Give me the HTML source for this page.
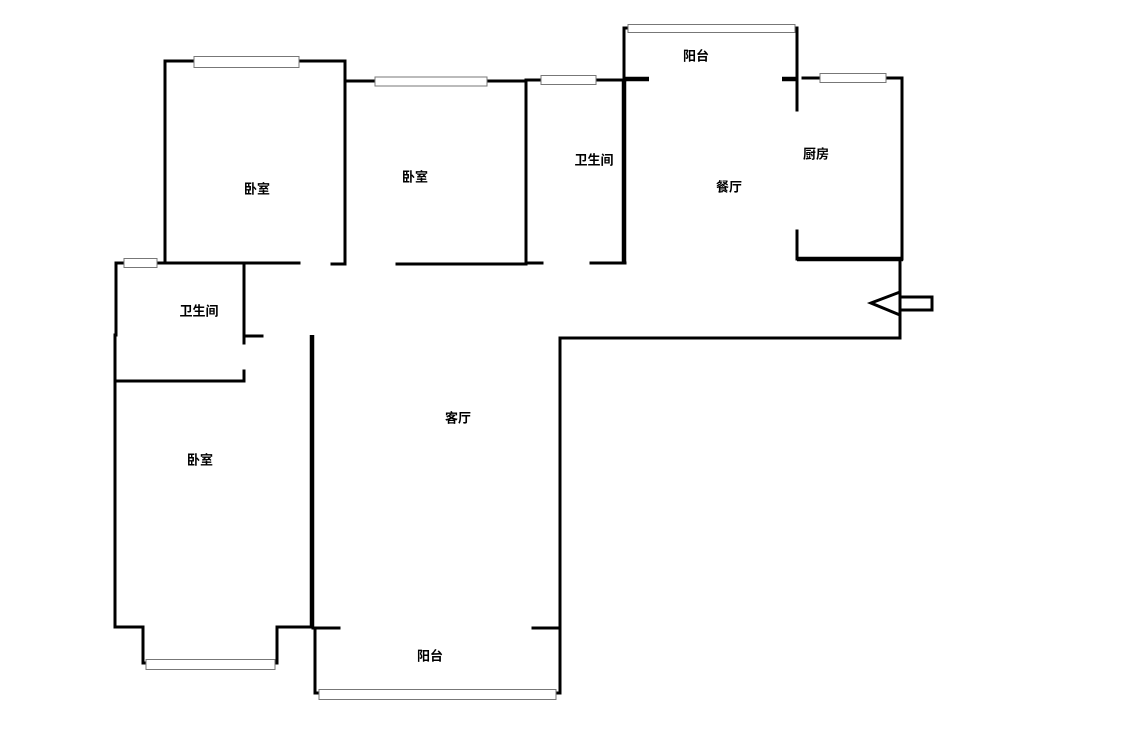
<!DOCTYPE html>
<html><head><meta charset="utf-8"><style>
html,body{margin:0;padding:0;background:#fff;}
svg{display:block}
text{font-family:"Liberation Sans","Noto Sans CJK SC",sans-serif;font-size:13px;font-weight:bold;fill:#000;text-anchor:middle;dominant-baseline:middle}
</style></head><body>
<svg width="1125" height="731" viewBox="0 0 1125 731" xmlns="http://www.w3.org/2000/svg">
<g stroke="#000" stroke-width="3" fill="none" stroke-linecap="square">
<!-- bedroom 1 -->
<polyline points="194,61 165,61 165,263"/>
<polyline points="299,61 345,61 345,264"/>
<line x1="117" y1="263" x2="299" y2="263"/>
<line x1="332" y1="264" x2="345" y2="264"/>
<!-- bedroom 2 -->
<line x1="345" y1="81" x2="375" y2="81"/>
<line x1="487" y1="81" x2="526" y2="81"/>
<line x1="526" y1="80" x2="526" y2="264"/>
<line x1="397" y1="264" x2="526" y2="264"/>
<!-- bathroom 2 -->
<line x1="526" y1="80" x2="541" y2="80"/>
<line x1="596" y1="80" x2="625" y2="80"/>
<line x1="526" y1="263" x2="542" y2="263"/>
<line x1="591" y1="263" x2="625" y2="263"/>
<line x1="624" y1="28" x2="624" y2="80"/>
<line x1="624" y1="28" x2="628" y2="28"/>
<line x1="797" y1="28" x2="797" y2="110"/>
<line x1="803" y1="78" x2="820" y2="78"/>
<line x1="886" y1="78" x2="902" y2="78"/>
<line x1="902" y1="78" x2="902" y2="259"/>
<line x1="797" y1="231" x2="797" y2="259"/>
<line x1="900" y1="259" x2="900" y2="338"/>
<line x1="560" y1="338" x2="900" y2="338"/>
<line x1="560" y1="338" x2="560" y2="693"/>
<line x1="533" y1="628" x2="560" y2="628"/>
<line x1="315" y1="628" x2="315" y2="693"/>
<line x1="315" y1="693" x2="319" y2="693"/>
<line x1="556" y1="693" x2="560" y2="693"/>
<line x1="313" y1="628" x2="339" y2="628"/>
<!-- small bathroom -->
<line x1="116" y1="263" x2="116" y2="335"/>
<line x1="244" y1="263" x2="244" y2="343"/>
<line x1="244" y1="336" x2="262" y2="336"/>
<line x1="116" y1="381" x2="244" y2="381"/>
<line x1="244" y1="371" x2="244" y2="381"/>
<!-- bedroom 3 -->
<polyline points="115,335 115,627 143,627 143,663 146,663"/>
<polyline points="275,663 277,663 277,627 312,627"/>
</g>
<g stroke="#000" stroke-width="4.5" fill="none">
<line x1="624" y1="80" x2="624" y2="264"/>
<line x1="624" y1="79" x2="649" y2="79"/>
<line x1="782" y1="79" x2="797" y2="79"/>
<line x1="797" y1="259" x2="903" y2="259"/>
<line x1="312" y1="335" x2="312" y2="628"/>
</g>
<!-- windows -->
<g stroke="#777" stroke-width="1" fill="#fff">
<rect x="194" y="56.5" width="105" height="11"/>
<rect x="375" y="77" width="112" height="9"/>
<rect x="541" y="75.5" width="55" height="9"/>
<rect x="628" y="24.5" width="167" height="8"/>
<rect x="820" y="73.5" width="66" height="9"/>
<rect x="124" y="258.5" width="33" height="9"/>
<rect x="146" y="659.5" width="129" height="10"/>
<rect x="319" y="689.5" width="237" height="10"/>
</g>
<!-- entrance arrow -->
<g stroke="#000" stroke-width="3" fill="#fff">
<polygon points="871,303 900,292 900,315"/>
<rect x="900" y="297" width="32" height="13"/>
</g>
<text x="257" y="190">卧室</text>
<text x="415" y="178">卧室</text>
<text x="594" y="161">卫生间</text>
<text x="696" y="57">阳台</text>
<text x="729" y="188">餐厅</text>
<text x="816" y="155">厨房</text>
<text x="199" y="312">卫生间</text>
<text x="200" y="461">卧室</text>
<text x="458" y="419">客厅</text>
<text x="430" y="657">阳台</text>
</svg>
</body></html>
